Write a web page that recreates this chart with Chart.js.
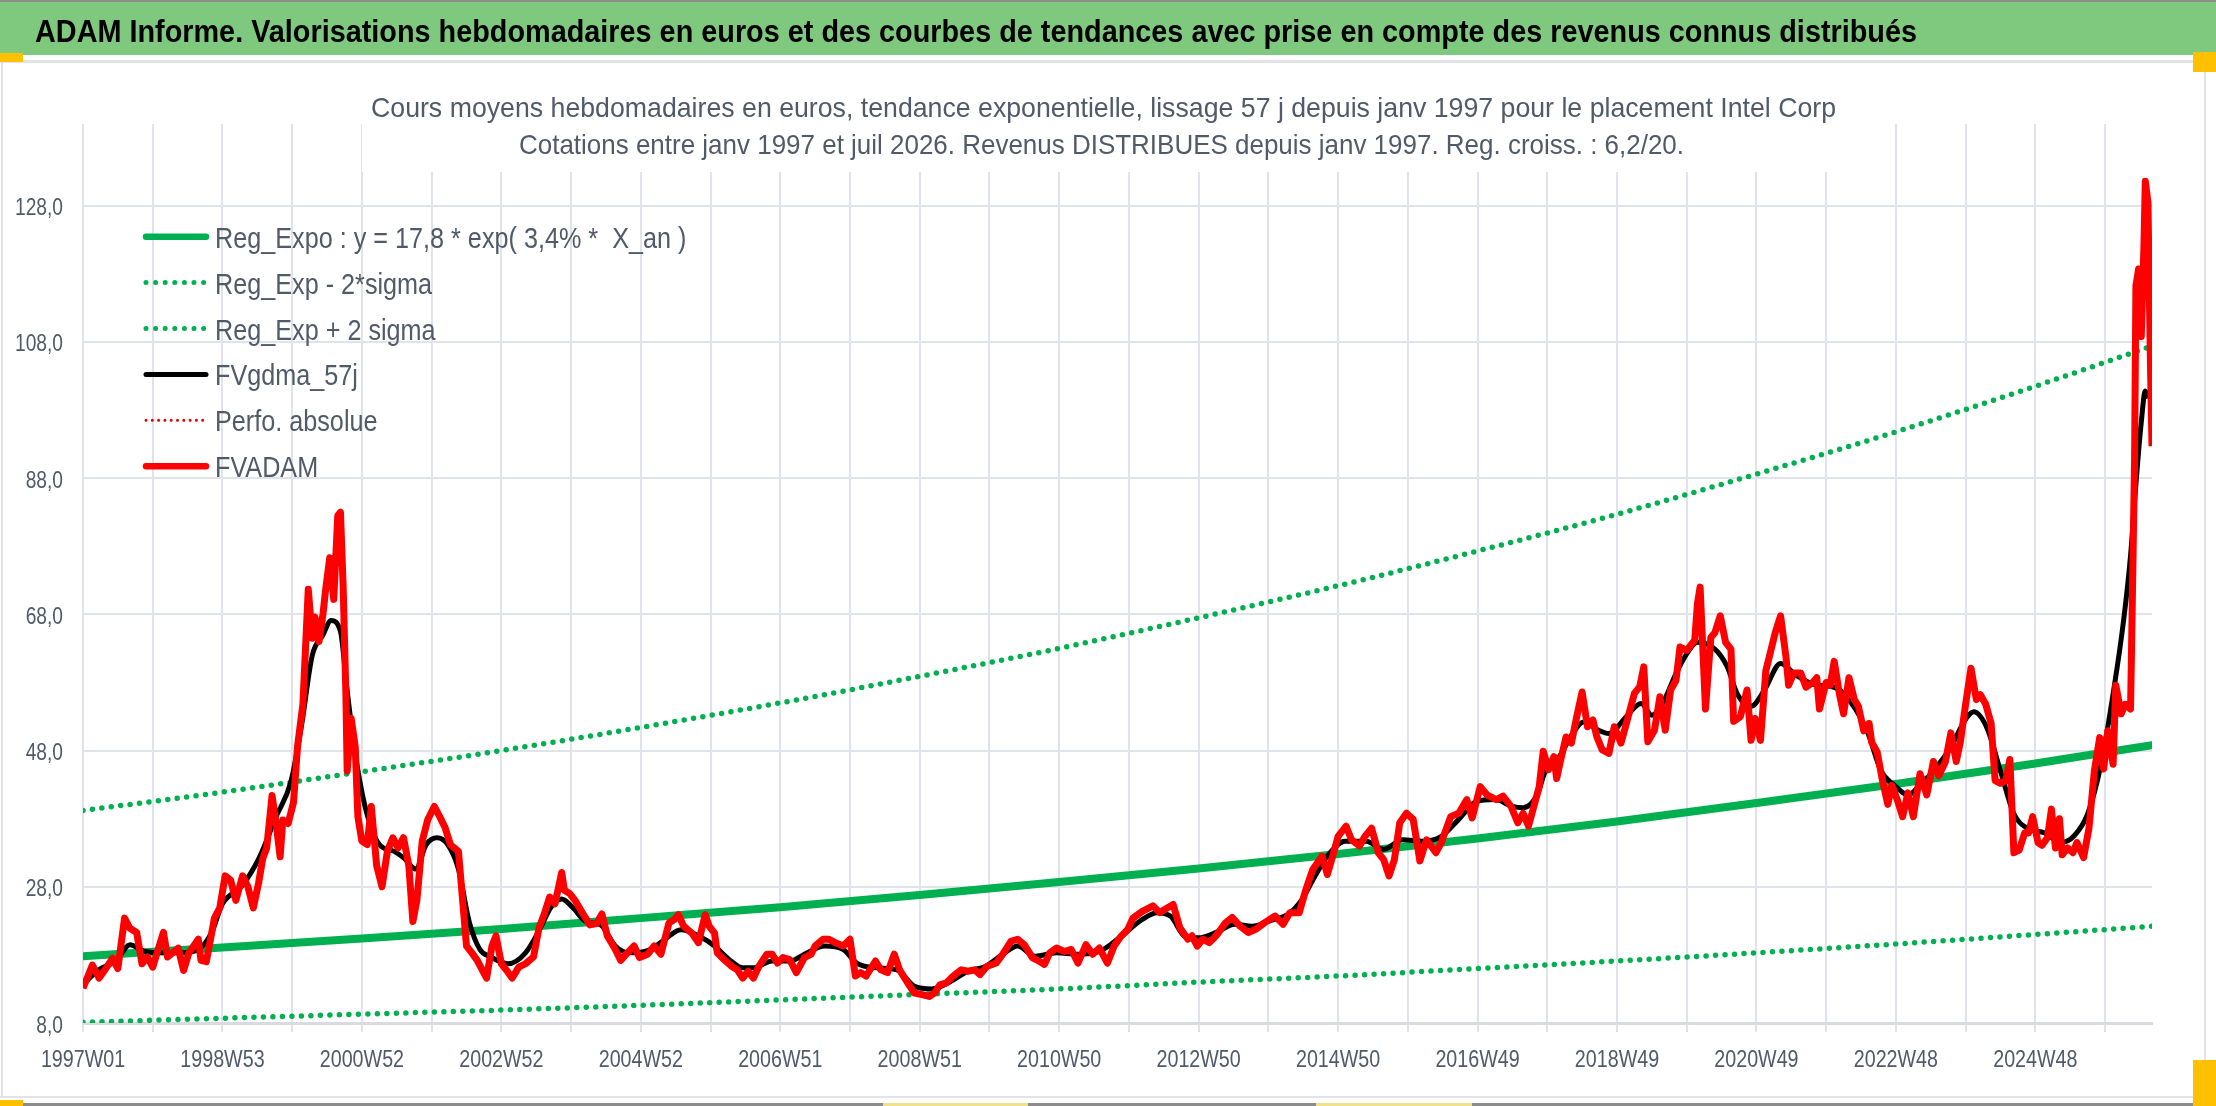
<!DOCTYPE html>
<html lang="fr">
<head>
<meta charset="UTF-8">
<title>ADAM Informe - Intel Corp</title>
<script src="https://cdn.jsdelivr.net/npm/chart.js"></script>
<style>
    html, body { margin: 0; padding: 0; background: #fff; }
    .chart-container { width: 2216px; height: 1106px; position: relative; }
</style>
</head>
<body>
<div class="chart-container"><canvas id="adamChart"></canvas></div>
<script>
const headerTitle = 'ADAM Informe. Valorisations hebdomadaires en euros et des courbes de tendances avec prise en compte des revenus connus distribués';
const subTitle1 = 'Cours moyens hebdomadaires en euros, tendance exponentielle, lissage 57 j depuis janv 1997 pour le placement Intel Corp';
const subTitle2 = 'Cotations entre janv 1997 et juil 2026. Revenus DISTRIBUES depuis janv 1997. Reg. croiss. : 6,2/20.';

// x = week index since 1997W01, one grid line every 52 weeks, one label every 104
const xTickWeeks = [0, 52, 104, 156, 208, 260, 312, 364, 416, 468, 520, 572, 624, 676, 728, 780,
    832, 884, 936, 988, 1040, 1092, 1144, 1196, 1248, 1300, 1352, 1404, 1456, 1508];
const xTickLabels = ['1997W01', '1998W53', '2000W52', '2002W52', '2004W52', '2006W51', '2008W51', '2010W50',
    '2012W50', '2014W50', '2016W49', '2018W49', '2020W49', '2022W48', '2024W48'];
const yTicks = [8, 28, 48, 68, 88, 108, 128];
const lastWeek = 1543;

// trend curves (read every 104 weeks)
const trendWeeks = [0, 104, 208, 312, 416, 520, 624, 728, 832, 936, 1040, 1144, 1248, 1352, 1456, 1543];
const regExpo = [17.8, 19.1, 20.4, 21.8, 23.4, 25.0, 26.8, 28.7, 30.7, 32.8, 35.1, 37.6, 40.3, 43.1, 46.1, 48.8];
const regExpLow = [8.1, 8.7, 9.3, 9.9, 10.6, 11.4, 12.2, 13.0, 14.0, 14.9, 16.0, 17.1, 18.3, 19.6, 21.0, 22.2];
const regExpHigh = [39.2, 41.9, 44.9, 48.0, 51.4, 55.0, 58.9, 63.0, 67.5, 72.2, 77.3, 82.7, 88.6, 94.8, 101.5, 107.4];

// FVgdma_57j (smoothed)
const smoothWeeks = [0, 11, 25, 35, 46, 59, 72, 86, 96, 104, 118, 131, 144, 155, 163, 171, 179, 185, 192, 197,
    203, 211, 221, 232, 240, 248, 256, 264, 272, 280, 288, 296, 304, 317, 330, 341, 349, 357, 365, 375,
    386, 397, 407, 423, 434, 446, 460, 471, 482, 492, 500, 514, 527, 540, 553, 567, 577, 593, 607, 620,
    633, 647, 660, 673, 686, 697, 710, 726, 742, 758, 774, 790, 801, 811, 822, 832, 845, 859, 872, 885,
    899, 909, 920, 930, 941, 957, 970, 984, 1000, 1013, 1026, 1039, 1053, 1066, 1074, 1085, 1090, 1101, 1111, 1119,
    1130, 1138, 1151, 1162, 1170, 1178, 1188, 1196, 1204, 1217, 1226, 1234, 1244, 1254, 1266, 1278, 1293, 1306, 1318, 1331,
    1341, 1351, 1361, 1370, 1380, 1393, 1403, 1410, 1420, 1430, 1440, 1450, 1463, 1475, 1485, 1495, 1505, 1515, 1522, 1527,
    1531, 1535, 1538, 1540];
const smoothValues = [13.6, 15.7, 17.2, 19.5, 18.5, 18.3, 18.3, 18.8, 21.3, 25.5, 28.0, 32.1, 38.3, 43.4, 51.7, 62.0, 65.0, 67.1, 65.5, 56.8,
    47.6, 39.3, 34.2, 33.2, 32.1, 30.6, 34.2, 35.2, 34.2, 30.6, 22.9, 18.8, 17.7, 16.7, 18.3, 21.9, 25.0, 26.2, 25.0, 22.9,
    22.4, 19.3, 18.3, 18.8, 20.3, 21.7, 20.7, 19.3, 17.3, 16.1, 16.1, 17.1, 17.1, 18.3, 19.3, 18.8, 16.8, 16.1, 15.8, 13.4,
    13.0, 14.1, 15.6, 16.3, 18.1, 19.3, 17.8, 18.3, 18.1, 18.5, 20.7, 23.2, 24.2, 23.7, 20.7, 20.5, 21.3, 22.5, 22.2, 23.0,
    24.0, 26.1, 30.0, 33.0, 34.7, 34.7, 33.5, 34.9, 34.7, 35.4, 37.9, 40.5, 40.8, 39.8, 39.6, 41.7, 44.7, 47.1, 50.5, 52.2,
    51.0, 50.5, 53.0, 54.9, 53.2, 54.9, 59.3, 62.2, 63.9, 62.9, 60.4, 56.2, 54.5, 56.9, 60.8, 59.0, 57.6, 57.3, 55.2, 50.6,
    45.0, 42.9, 41.5, 42.9, 45.0, 48.5, 52.3, 53.7, 51.3, 45.0, 38.7, 36.6, 35.9, 34.5, 35.5, 38.7, 46.0, 57.6, 67.4, 76.6,
    87.1, 96.2, 100.8, 99.7];

// FVADAM (weekly valuation)
const adamWeeks = [0, 7, 12, 16, 22, 26, 31, 35, 40, 44, 48, 52, 56, 60, 63, 68, 71, 75, 79, 86,
    88, 92, 98, 102, 106, 110, 114, 119, 123, 127, 131, 134, 137, 141, 144, 147, 149, 153, 157, 160,
    164, 168, 171, 173, 176, 179, 181, 184, 187, 188, 190, 192, 194, 196, 197, 200, 203, 205, 208, 212,
    215, 219, 223, 227, 231, 235, 239, 243, 246, 249, 253, 257, 262, 266, 270, 274, 280, 282, 286, 290,
    294, 298, 301, 305, 308, 312, 316, 320, 325, 330, 336, 340, 344, 348, 352, 357, 359, 363, 367, 373,
    378, 383, 387, 391, 397, 401, 406, 411, 415, 421, 426, 431, 437, 441, 444, 448, 454, 459, 464, 467,
    471, 473, 478, 484, 488, 492, 496, 500, 504, 510, 514, 518, 522, 527, 532, 538, 543, 546, 552, 556,
    561, 567, 572, 576, 580, 584, 591, 595, 600, 605, 609, 615, 620, 625, 631, 635, 639, 644, 649, 655,
    660, 665, 669, 674, 681, 686, 692, 697, 702, 708, 713, 717, 721, 726, 732, 737, 742, 748, 753, 758,
    764, 769, 774, 779, 783, 790, 798, 803, 807, 813, 818, 824, 827, 831, 835, 840, 845, 852, 857, 863,
    869, 875, 881, 889, 895, 900, 907, 912, 917, 924, 928, 932, 936, 942, 946, 952, 956, 961, 966, 970,
    974, 978, 982, 987, 992, 997, 1002, 1009, 1013, 1020, 1026, 1032, 1036, 1042, 1047, 1054, 1059, 1065, 1070, 1074,
    1078, 1082, 1086, 1089, 1093, 1097, 1099, 1102, 1106, 1110, 1114, 1118, 1122, 1126, 1129, 1133, 1138, 1142, 1147, 1151,
    1157, 1161, 1164, 1167, 1172, 1176, 1180, 1184, 1188, 1191, 1196, 1202, 1204, 1206, 1210, 1214, 1217, 1221, 1225, 1229,
    1231, 1236, 1241, 1244, 1247, 1251, 1255, 1259, 1262, 1266, 1270, 1272, 1276, 1281, 1285, 1290, 1293, 1295, 1300, 1303,
    1306, 1310, 1313, 1317, 1321, 1324, 1328, 1332, 1334, 1338, 1342, 1346, 1349, 1353, 1357, 1361, 1365, 1370, 1375, 1380,
    1384, 1389, 1393, 1397, 1400, 1404, 1408, 1412, 1415, 1419, 1423, 1426, 1430, 1434, 1437, 1440, 1444, 1448, 1451, 1454,
    1458, 1461, 1465, 1468, 1471, 1474, 1476, 1480, 1484, 1487, 1492, 1496, 1500, 1504, 1507, 1510, 1514, 1516, 1520, 1523,
    1527, 1528, 1530, 1531, 1533, 1535, 1537, 1538, 1540, 1541, 1542, 1543];
const adamValues = [13.1, 16.5, 14.6, 15.7, 17.5, 16.0, 23.4, 21.9, 21.3, 16.7, 17.7, 16.2, 18.8, 21.3, 17.7, 18.5, 19.0, 15.7, 18.3, 20.3,
    17.2, 17.0, 23.4, 24.9, 29.6, 29.0, 26.0, 29.6, 28.0, 24.9, 28.6, 32.1, 33.7, 41.4, 37.3, 32.4, 37.8, 37.3, 40.4, 48.6,
    54.8, 71.7, 64.5, 67.6, 64.0, 68.1, 71.7, 76.3, 70.2, 74.3, 82.5, 83.0, 72.2, 56.8, 45.0, 52.7, 48.6, 38.3, 34.7, 34.2,
    39.8, 31.1, 28.0, 33.2, 35.2, 33.7, 35.2, 31.1, 22.9, 26.0, 34.7, 37.8, 39.8, 38.3, 36.7, 34.2, 33.2, 28.6, 19.3, 18.3,
    17.2, 15.7, 14.6, 19.3, 20.8, 16.7, 15.7, 14.6, 16.2, 16.7, 17.7, 21.9, 24.0, 26.5, 25.5, 30.1, 27.5, 27.0, 26.0, 24.0,
    22.4, 22.6, 24.0, 20.8, 18.8, 17.2, 18.3, 19.3, 17.6, 18.1, 19.3, 18.1, 22.7, 23.2, 23.9, 22.2, 21.2, 19.8, 23.9, 22.2,
    21.2, 18.3, 17.3, 16.3, 15.8, 14.6, 15.6, 14.6, 16.3, 18.1, 18.1, 16.8, 17.6, 17.3, 15.4, 17.6, 18.1, 19.3, 20.3, 20.3,
    19.8, 19.3, 20.3, 14.9, 15.4, 14.9, 17.1, 15.8, 15.4, 18.1, 15.8, 13.9, 12.4, 12.2, 11.9, 12.4, 13.6, 13.9, 14.9, 15.8,
    15.6, 15.8, 15.1, 16.3, 16.8, 18.1, 20.0, 20.3, 19.5, 17.6, 17.1, 16.6, 18.3, 19.0, 18.5, 18.8, 16.8, 19.5, 18.1, 19.0,
    16.8, 19.3, 20.7, 21.7, 23.4, 24.4, 25.2, 24.2, 24.7, 25.4, 22.0, 20.3, 20.8, 19.3, 20.3, 19.8, 20.8, 22.7, 23.5, 22.2,
    21.3, 21.8, 22.7, 23.7, 22.5, 24.2, 24.2, 27.6, 30.5, 32.5, 29.8, 32.5, 35.4, 36.9, 34.9, 34.0, 35.4, 36.6, 33.0, 32.0,
    29.6, 32.0, 37.4, 38.8, 37.9, 31.8, 34.9, 33.0, 34.5, 38.3, 38.8, 40.8, 38.1, 42.7, 41.5, 40.8, 41.3, 39.8, 37.4, 38.8,
    36.9, 39.8, 42.7, 47.9, 45.2, 47.1, 43.9, 46.6, 50.0, 49.1, 53.0, 56.6, 51.5, 52.5, 50.0, 48.1, 47.6, 51.5, 49.1, 52.0,
    56.4, 57.4, 60.3, 49.3, 51.0, 55.9, 51.0, 56.9, 58.3, 63.2, 62.7, 64.2, 69.6, 72.0, 54.1, 64.6, 65.3, 67.8, 63.9, 62.9,
    52.3, 53.0, 56.9, 49.5, 52.7, 49.5, 59.7, 62.9, 65.3, 67.8, 61.8, 57.6, 59.4, 59.4, 57.3, 58.0, 58.7, 54.1, 58.0, 57.6,
    61.1, 56.2, 53.4, 58.7, 55.5, 54.5, 50.9, 52.0, 49.2, 47.8, 43.6, 40.1, 42.9, 40.8, 38.3, 41.8, 38.3, 44.6, 41.5, 46.4,
    44.3, 46.4, 50.6, 46.4, 49.2, 54.8, 60.1, 55.5, 56.2, 54.8, 52.0, 43.6, 43.2, 43.6, 46.7, 33.0, 33.4, 35.9, 35.9, 38.3,
    34.5, 34.1, 35.2, 39.4, 33.7, 38.0, 32.7, 33.7, 33.0, 34.5, 32.3, 36.6, 45.0, 49.9, 45.3, 50.9, 46.0, 57.6, 53.4, 54.8,
    54.1, 66.0, 90.6, 116.2, 118.7, 108.8, 122.2, 131.6, 128.5, 115.2, 103.2, 92.7];

// Perfo. absolue: present in the legend only
const perfoWeeks = [];
const perfoValues = [];

const FONT = "'Liberation Sans', Arial, sans-serif";
const TEXT_COLOR = '#505a69';
const GRID_COLOR = '#e0e3e9';
const GREEN = '#00b050';
const RED = '#ff0000';

const pts = (xs, ys) => xs.map((x, i) => ({ x: x, y: ys[i] }));

// the original uses a condensed face: squeeze the text horizontally
function squeezeText(ctx, text, font, x, y, opts) {
    ctx.save();
    ctx.font = font;
    ctx.fillStyle = opts.color || TEXT_COLOR;
    ctx.textBaseline = opts.baseline || 'alphabetic';
    const w = ctx.measureText(text).width;
    const s = opts.width ? opts.width / w : opts.scale;
    const drawn = w * s;
    let left = x;
    if (opts.align === 'center') left = x - drawn / 2;
    if (opts.align === 'right') left = x - drawn;
    ctx.translate(left, y);
    ctx.scale(s, 1);
    ctx.textAlign = 'left';
    ctx.fillText(text, 0, 0);
    ctx.restore();
}

const framePlugin = {
    id: 'frame',
    beforeDraw(chart) {
        const ctx = chart.ctx;
        const W = chart.width, H = chart.height;
        ctx.save();
        ctx.fillStyle = '#fff';
        ctx.fillRect(0, 0, W, H);
        ctx.fillStyle = '#8c8c8c';
        ctx.fillRect(0, 0, W, 2);
        ctx.fillRect(0, H - 3, W, 3);
        ctx.fillStyle = '#7fc97f';
        ctx.fillRect(0, 2, W, 53);
        ctx.fillStyle = '#e2e3e6';
        ctx.fillRect(0, 60, W - 10, 3);
        ctx.fillRect(1, 60, 2, 1038);
        ctx.fillRect(W - 12, 60, 2, 1038);
        ctx.fillRect(0, 1096, W - 10, 2);
        ctx.fillStyle = '#ffc000';
        ctx.fillRect(0, 53, 23, 9);
        ctx.fillRect(W - 23, 52, 23, 20);
        ctx.fillRect(0, H - 6, 23, 6);
        ctx.fillRect(W - 23, 1060, 23, 46);
        ctx.fillStyle = '#eee38a';
        ctx.fillRect(883, H - 3, 145, 3);
        ctx.fillRect(1316, H - 3, 156, 3);
        ctx.restore();
        squeezeText(ctx, headerTitle, 'bold 31px ' + FONT, 35, 41.5, { width: 1882, color: '#000' });
    }
};

const titlePlugin = {
    id: 'subTitles',
    beforeDatasetsDraw(chart) {
        const ctx = chart.ctx;
        ctx.save();
        ctx.fillStyle = '#fff';
        ctx.fillRect(362, chart.chartArea.top, 1486, 172 - chart.chartArea.top);
        ctx.restore();
        squeezeText(ctx, subTitle1, '28px ' + FONT, 371, 116.5, { width: 1465 });
        squeezeText(ctx, subTitle2, '28px ' + FONT, 519, 153.5, { width: 1165 });
    }
};

// tick labels drawn at the positions given by the chart's scales
const axisLabelPlugin = {
    id: 'axisLabels',
    afterDraw(chart) {
        const ctx = chart.ctx;
        const xs = chart.scales.x, ys = chart.scales.y;
        const font = '24px ' + FONT;
        xs.ticks.forEach((t, i) => {
            if (i % 2 !== 0) return;
            squeezeText(ctx, xTickLabels[i / 2], font, xs.getPixelForValue(t.value), 1067,
                { align: 'center', scale: 0.82 });
        });
        ys.ticks.forEach(t => {
            squeezeText(ctx, t.value.toFixed(1).replace('.', ','), font, chart.chartArea.left - 20,
                ys.getPixelForValue(t.value) + 9.5, { align: 'right', scale: 0.8 });
        });
    }
};

const legendPlugin = {
    id: 'insideLegend',
    afterDatasetsDraw(chart) {
        const ctx = chart.ctx;
        chart.data.datasets.forEach((ds, i) => {
            const y = 236.7 + i * 45.9;
            ctx.save();
            ctx.strokeStyle = ds.borderColor;
            ctx.lineWidth = ds.legendWidth;
            ctx.lineCap = 'round';
            ctx.setLineDash(ds.legendDash || []);
            ctx.beginPath();
            ctx.moveTo(146, y);
            ctx.lineTo(206, y);
            ctx.stroke();
            ctx.restore();
            squeezeText(ctx, ds.label, '30px ' + FONT, 215, y + 11, { scale: 0.84 });
        });
    }
};

const ctx = document.getElementById('adamChart').getContext('2d');
const adamChart = new Chart(ctx, {
    type: 'line',
    data: {
        datasets: [
            {
                label: 'Reg_Expo : y = 17,8 * exp( 3,4% *  X_an )',
                data: pts(trendWeeks, regExpo),
                borderColor: GREEN, borderWidth: 8, borderCapStyle: 'round',
                cubicInterpolationMode: 'monotone', order: 3, legendWidth: 6.5
            },
            {
                label: 'Reg_Exp - 2*sigma',
                data: pts(trendWeeks, regExpLow),
                borderColor: GREEN, borderWidth: 5.5, borderDash: [0, 9.5], borderCapStyle: 'round',
                cubicInterpolationMode: 'monotone', order: 4, legendWidth: 5, legendDash: [0, 9.6]
            },
            {
                label: 'Reg_Exp + 2 sigma',
                data: pts(trendWeeks, regExpHigh),
                borderColor: GREEN, borderWidth: 5.5, borderDash: [0, 9.5], borderCapStyle: 'round',
                cubicInterpolationMode: 'monotone', order: 4, legendWidth: 5, legendDash: [0, 9.6]
            },
            {
                label: 'FVgdma_57j',
                data: pts(smoothWeeks, smoothValues),
                borderColor: '#000', borderWidth: 5, borderJoinStyle: 'round',
                cubicInterpolationMode: 'monotone', order: 2, legendWidth: 5
            },
            {
                label: 'Perfo. absolue',
                data: pts(perfoWeeks, perfoValues),
                borderColor: '#e00000', borderWidth: 3, borderDash: [0, 6.3], borderCapStyle: 'round',
                order: 1, legendWidth: 3, legendDash: [0, 6.3]
            },
            {
                label: 'FVADAM',
                data: pts(adamWeeks, adamValues),
                borderColor: RED, borderWidth: 7, borderJoinStyle: 'round',
                order: 0, legendWidth: 6.5
            }
        ]
    },
    options: {
        responsive: true,
        maintainAspectRatio: false,
        animation: false,
        events: [],
        elements: { point: { radius: 0 } },
        layout: { padding: { top: 124, right: 64, bottom: 0, left: 0 } },
        scales: {
            x: {
                type: 'linear',
                min: 0,
                max: lastWeek,
                afterBuildTicks: scale => { scale.ticks = xTickWeeks.map(v => ({ value: v })); },
                afterFit: scale => { scale.height = 83; },
                grid: { color: GRID_COLOR, lineWidth: 2, drawTicks: true, tickLength: 9, tickColor: GRID_COLOR },
                border: { display: true, color: '#d9dbe0', width: 3 },
                ticks: { display: false, autoSkip: false, maxRotation: 0 }
            },
            y: {
                type: 'linear',
                min: 8,
                max: 140,
                afterBuildTicks: scale => { scale.ticks = yTicks.map(v => ({ value: v })); },
                afterFit: scale => { scale.width = 83; },
                grid: { color: GRID_COLOR, lineWidth: 2, drawTicks: false },
                border: { display: false },
                ticks: { display: false }
            }
        },
        plugins: {
            legend: { display: false },
            title: { display: false },
            tooltip: { enabled: false }
        }
    },
    plugins: [framePlugin, titlePlugin, axisLabelPlugin, legendPlugin]
});
</script>
</body>
</html>
